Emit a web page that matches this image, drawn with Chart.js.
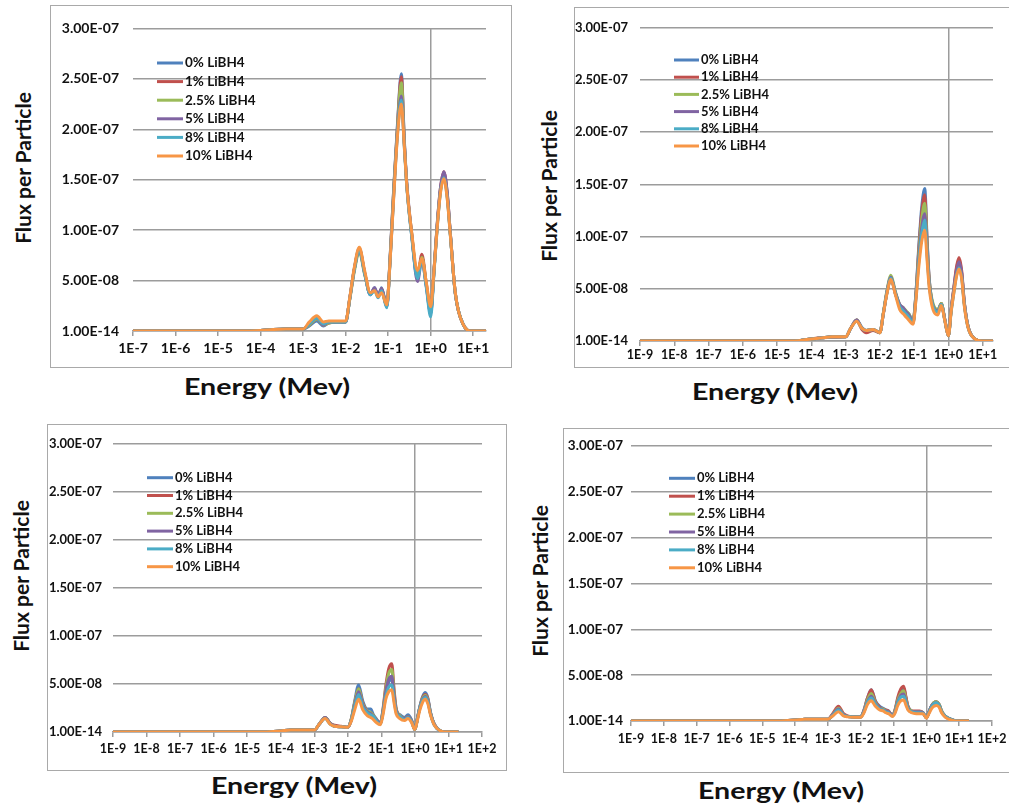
<!DOCTYPE html>
<html lang="en">
<head>
<meta charset="UTF-8">
<title>Flux per Particle vs Energy</title>
<script src="https://cdn.jsdelivr.net/npm/chart.js"></script>
<style>
  body { margin: 0; width: 1009px; height: 805px; overflow: hidden; background: #fff; position: relative; font-family: Lato, sans-serif; }
  .frame { position: absolute; border: 1px solid #a9a9a9; box-sizing: border-box; }
  .frame canvas { position: absolute; left: 0; top: 0; }
  .ytitle, .xtitle { position: absolute; font-weight: bold; color: #111; white-space: nowrap; font-size: 21px; }
  .ytitle { transform: translate(-50%, -50%) rotate(-90deg); }
  .xtitle { font-size: 22px; transform: translate(-50%, -50%) scaleX(1.3); }
</style>
</head>
<body>
<script>
// energy grid (MeV), shared by all four panels
const energy = [1e-9, 1e-8, 1e-7, 1e-6, 1e-5, 3.2e-5, 1e-4, 2e-4, 4e-4, 1e-3,
  1.4e-3, 2.1e-3, 3e-3, 4e-3, 6.3e-3, 1e-2, 1.26e-2, 1.6e-2, 2.1e-2, 2.8e-2,
  3.8e-2, 4.8e-2, 5.8e-2, 7e-2, 9.3e-2, 0.112, 0.135, 0.166, 0.204, 0.24,
  0.275, 0.355, 0.49, 0.62, 0.79, 1.0, 1.2, 1.41, 1.7, 2.04,
  2.45, 2.9, 3.8, 5.9, 9.3, 20];

const seriesNames = ['0% LiBH4', '1% LiBH4', '2.5% LiBH4', '5% LiBH4', '8% LiBH4', '10% LiBH4'];
const seriesColors = ['#4F81BD', '#C0504D', '#9BBB59', '#8064A2', '#4BACC6', '#F79646'];

// flux per particle, in units of 1E-08
const fluxA = [
  [0,0,0,0,0,0, 0.05,0.15,0.2,0.2, 0.5,1.0,0.5,0.8,0.9,0.9, 3.3,6.2,8.2,5.8,3.6,4.3,3.4,4.3,2.4, 7.6,14.1,20.6,25.5,19.0,14.5,9.6,5.3,7.3,4.5,1.7, 6.0,10.2,14.0,15.6,13.5,9.6,3.7,0.6,0,0],
  [0,0,0,0,0,0, 0.05,0.15,0.2,0.2, 0.6,1.2,0.6,0.8,0.9,0.9, 3.3,6.1,8.1,5.8,3.7,4.2,3.5,4.2,2.5, 7.5,14.0,20.4,25.2,18.8,14.4,9.7,5.5,7.6,4.7,2.0, 6.1,10.4,14.2,15.8,13.7,9.7,3.7,0.6,0,0],
  [0,0,0,0,0,0, 0.05,0.15,0.2,0.2, 0.6,1.2,0.6,0.8,0.9,0.9, 3.2,5.9,7.8,5.6,3.7,4.0,3.5,4.0,2.5, 7.4,13.8,20.2,24.6,18.6,14.4,9.8,5.5,7.3,4.6,2.0, 6.0,10.2,13.9,15.4,13.4,9.6,3.7,0.6,0,0],
  [0,0,0,0,0,0, 0.05,0.15,0.2,0.2, 0.7,1.3,0.6,0.9,0.9,0.9, 3.3,6.1,8.0,5.7,3.6,4.3,3.5,4.2,2.4, 7.3,13.5,19.8,23.3,18.5,14.6,9.8,4.9,7.0,4.4,1.8, 6.0,10.3,14.2,15.8,13.7,9.7,3.7,0.6,0,0],
  [0,0,0,0,0,0, 0.05,0.15,0.2,0.2, 0.7,1.3,0.7,0.9,0.9,0.9, 3.3,6.1,8.0,5.7,3.6,4.0,3.3,4.0,2.3, 7.2,13.4,19.6,22.9,18.2,14.3,9.5,5.2,7.1,4.3,1.4, 5.8,10.0,13.8,15.2,13.2,9.5,3.7,0.6,0,0],
  [0,0,0,0,0,0, 0.05,0.15,0.2,0.2, 0.9,1.5,0.9,1.0,1.0,1.0, 3.4,6.3,8.3,6.0,3.8,4.0,3.4,3.8,2.6, 7.2,13.2,19.4,22.5,18.3,14.4,9.9,6.0,7.2,4.8,2.4, 6.0,10.0,13.7,15.1,13.1,9.5,3.8,0.6,0,0]
];
const fluxB = [
  [0,0,0,0,0,0, 0.2,0.3,0.4,0.4, 1.2,2.0,1.3,1.0,1.1,0.8, 2.6,4.6,6.1,4.6,3.4,3.1,2.8,2.6,1.9, 4.5,8.8,12.8,14.6,9.6,6.0,3.4,2.9,3.6,2.0,0.5, 3.0,4.8,6.8,7.8,6.5,3.7,1.3,0.2,0,0],
  [0,0,0,0,0,0, 0.2,0.3,0.35,0.4, 1.2,2.0,1.1,0.8,1.0,0.8, 2.6,4.6,6.0,4.6,3.4,3.1,2.8,2.5,1.8, 4.4,8.5,12.3,14.0,9.3,5.9,3.4,2.9,3.6,2.0,0.5, 3.0,4.9,7.0,8.0,6.7,3.8,1.3,0.2,0,0],
  [0,0,0,0,0,0, 0.2,0.3,0.4,0.4, 1.2,2.0,1.2,1.0,1.1,0.8, 2.7,4.8,6.3,4.8,3.5,3.2,2.9,2.6,1.9, 4.3,8.1,11.6,13.2,8.9,5.8,3.6,3.0,3.6,2.0,0.5, 2.9,4.6,6.4,7.3,6.2,3.6,1.3,0.2,0,0],
  [0,0,0,0,0,0, 0.2,0.3,0.4,0.4, 1.2,2.0,1.2,1.0,1.1,0.8, 2.6,4.7,6.1,4.7,3.5,3.2,2.8,2.5,1.8, 4.1,7.7,10.8,12.2,8.4,5.6,3.4,2.9,3.5,2.0,0.5, 3.0,4.7,6.6,7.6,6.4,3.7,1.3,0.2,0,0],
  [0,0,0,0,0,0, 0.2,0.3,0.4,0.4, 1.2,1.9,1.2,1.0,1.1,0.8, 2.6,4.6,6.0,4.6,3.3,2.9,2.6,2.3,1.7, 4.0,7.4,10.3,11.6,8.1,5.4,3.3,2.8,3.5,1.9,0.5, 2.8,4.4,6.2,7.0,6.0,3.5,1.2,0.2,0,0],
  [0,0,0,0,0,0, 0.2,0.3,0.4,0.4, 1.2,1.9,1.2,1.0,1.1,0.8, 2.6,4.5,5.9,4.5,3.0,2.6,2.3,2.0,1.6, 3.8,6.9,9.5,10.6,7.6,5.1,3.0,2.5,3.4,1.9,0.5, 2.8,4.4,6.1,6.9,5.9,3.4,1.2,0.2,0,0]
];
const fluxC = [
  [0,0,0,0,0,0, 0.1,0.2,0.2,0.2, 0.8,1.5,0.9,0.6,0.55,0.5, 1.3,3.2,4.9,3.2,2.4,2.4,1.8,1.4,0.9, 2.1,4.0,5.2,5.5,3.6,2.3,1.8,1.5,1.8,1.3,0.25, 1.5,2.7,3.7,4.1,3.5,2.1,0.8,0.1,0,0],
  [0,0,0,0,0,0, 0.1,0.2,0.2,0.2, 0.8,1.5,0.9,0.7,0.6,0.5, 1.3,3.0,4.5,3.0,2.2,2.0,1.7,1.3,0.9, 2.4,4.8,6.6,7.1,4.4,2.5,1.7,1.4,1.6,1.2,0.25, 1.5,2.6,3.6,3.9,3.4,2.0,0.8,0.1,0,0],
  [0,0,0,0,0,0, 0.1,0.2,0.2,0.2, 0.8,1.5,0.9,0.6,0.55,0.5, 1.3,3.0,4.5,2.9,2.2,2.0,1.7,1.3,0.9, 2.3,4.5,6.1,6.5,4.1,2.4,1.7,1.4,1.6,1.2,0.25, 1.5,2.6,3.5,3.8,3.3,2.0,0.8,0.1,0,0],
  [0,0,0,0,0,0, 0.1,0.2,0.2,0.2, 0.8,1.5,0.9,0.6,0.55,0.5, 1.2,2.8,4.2,2.8,2.1,1.9,1.6,1.3,0.9, 2.2,4.2,5.5,5.8,3.8,2.3,1.6,1.4,1.6,1.2,0.25, 1.5,2.6,3.4,3.7,3.2,2.0,0.8,0.1,0,0],
  [0,0,0,0,0,0, 0.1,0.2,0.2,0.2, 0.8,1.4,0.8,0.6,0.55,0.5, 1.2,2.6,3.9,2.6,2.0,1.8,1.6,1.2,0.8, 2.0,3.7,4.7,4.9,3.3,2.1,1.6,1.3,1.5,1.1,0.25, 1.4,2.5,3.3,3.6,3.1,1.9,0.7,0.1,0,0],
  [0,0,0,0,0,0, 0.1,0.2,0.2,0.2, 0.8,1.4,0.8,0.6,0.55,0.5, 1.1,2.3,3.4,2.3,1.7,1.5,1.3,1.0,0.75, 1.8,3.4,4.2,4.4,3.0,1.9,1.4,1.2,1.4,1.0,0.25, 1.3,2.3,3.1,3.4,2.9,1.8,0.7,0.1,0,0]
];
const fluxD = [
  [0,0,0,0,0,0, 0.1,0.2,0.2,0.2, 0.7,1.4,0.7,0.5,0.45,0.45, 1.2,2.5,3.4,2.2,1.6,1.4,1.2,1.1,0.6, 1.2,2.4,3.3,3.6,2.5,1.6,1.1,1.0,1.0,0.9,0.35, 1.0,1.6,2.0,2.1,1.8,1.1,0.5,0.15,0,0],
  [0,0,0,0,0,0, 0.1,0.2,0.2,0.2, 0.8,1.6,0.8,0.55,0.45,0.45, 1.2,2.5,3.4,2.1,1.5,1.3,1.2,1.1,0.6, 1.3,2.6,3.5,3.8,2.6,1.6,1.1,1.1,1.1,0.9,0.35, 1.0,1.6,2.0,2.1,1.8,1.1,0.5,0.15,0,0],
  [0,0,0,0,0,0, 0.1,0.2,0.2,0.2, 0.7,1.4,0.7,0.5,0.45,0.45, 1.1,2.3,3.0,2.0,1.4,1.3,1.1,1.0,0.6, 1.2,2.3,3.0,3.3,2.3,1.5,1.1,1.0,1.0,0.9,0.35, 1.0,1.6,2.0,2.1,1.8,1.1,0.5,0.15,0,0],
  [0,0,0,0,0,0, 0.1,0.2,0.2,0.2, 0.7,1.3,0.7,0.5,0.45,0.45, 1.1,2.1,2.7,1.9,1.4,1.2,1.1,1.0,0.6, 1.1,2.1,2.8,2.95,2.1,1.4,1.0,1.0,1.0,0.9,0.35, 1.0,1.6,1.9,2.0,1.7,1.0,0.5,0.15,0,0],
  [0,0,0,0,0,0, 0.1,0.2,0.2,0.2, 0.6,1.2,0.6,0.5,0.45,0.45, 1.0,2.0,2.5,1.8,1.3,1.2,1.0,0.9,0.55, 1.0,2.0,2.6,2.7,2.0,1.3,1.0,0.9,0.9,0.85,0.35, 0.9,1.5,1.9,2.0,1.7,1.0,0.5,0.15,0,0],
  [0,0,0,0,0,0, 0.1,0.2,0.2,0.2, 0.55,1.0,0.55,0.45,0.4,0.4, 0.9,1.8,2.2,1.6,1.2,1.1,0.9,0.8,0.5, 0.9,1.7,2.2,2.3,1.7,1.2,0.9,0.8,0.8,0.8,0.3, 0.8,1.3,1.6,1.7,1.5,0.9,0.4,0.1,0,0]
];

const yTickValues = [0, 5, 10, 15, 20, 25, 30];
const yTickLabels = ['1.00E-14', '5.00E-08', '1.00E-07', '1.50E-07', '2.00E-07', '2.50E-07', '3.00E-07'];
const xTicksA = [1e-7, 1e-6, 1e-5, 1e-4, 1e-3, 1e-2, 1e-1, 1, 10];
const xLabelsA = ['1E-7', '1E-6', '1E-5', '1E-4', '1E-3', '1E-2', '1E-1', '1E+0', '1E+1'];
const xTicksB = [1e-9, 1e-8, 1e-7, 1e-6, 1e-5, 1e-4, 1e-3, 1e-2, 1e-1, 1, 10];
const xLabelsB = ['1E-9', '1E-8', '1E-7', '1E-6', '1E-5', '1E-4', '1E-3', '1E-2', '1E-1', '1E+0', '1E+1'];
const xTicksC = [1e-9, 1e-8, 1e-7, 1e-6, 1e-5, 1e-4, 1e-3, 1e-2, 1e-1, 1, 10, 100];
const xLabelsC = ['1E-9', '1E-8', '1E-7', '1E-6', '1E-5', '1E-4', '1E-3', '1E-2', '1E-1', '1E+0', '1E+1', '1E+2'];

const GRID = '#9c9c9c';

// panel geometry (page pixels)
const panels = [
  { flux: fluxA, xMin: 1e-7, xMax: 20, xTicks: xTicksA, xLabels: xLabelsA,
    frame: [50, 5, 462, 363], pad: { top: 18.5, right: 25 }, yWidth: 82, xHeight: 36,
    ySize: 14, xSize: 14, yPad: 14, xPad: 4,
    legend: { x: 106, y: 57, gap: 18.6, len: 26, size: 13.5 },
    ytitle: [22, 168], xtitle: [267, 386] },
  { flux: fluxB, xMin: 1e-9, xMax: 20, xTicks: xTicksB, xLabels: xLabelsB,
    frame: [574, 7, 450, 361], pad: { top: 9, right: 30 }, yWidth: 65, xHeight: 26,
    ySize: 13, xSize: 12.5, yPad: 12, xPad: 1,
    legend: { x: 99, y: 52, gap: 17.2, len: 25, size: 13 },
    ytitle: [548, 186], xtitle: [775, 391] },
  { flux: fluxC, xMin: 1e-9, xMax: 100, xTicks: xTicksC, xLabels: xLabelsC,
    frame: [47, 424, 460, 347], pad: { top: 16, right: 24 }, yWidth: 65, xHeight: 38,
    ySize: 13, xSize: 12.5, yPad: 11, xPad: 4,
    legend: { x: 99, y: 52.7, gap: 17.8, len: 26, size: 13 },
    ytitle: [20, 576], xtitle: [294, 785] },
  { flux: fluxD, xMin: 1e-9, xMax: 100, xTicks: xTicksC, xLabels: xLabelsC,
    frame: [563, 428, 462, 345], pad: { top: 17, right: 32 }, yWidth: 67, xHeight: 51,
    ySize: 13.5, xSize: 12.5, yPad: 8, xPad: 5,
    legend: { x: 105, y: 49.3, gap: 17.9, len: 26, size: 13 },
    ytitle: [539, 581], xtitle: [781, 790] }
];

const insideLegend = {
  id: 'insideLegend',
  afterDraw(chart, args, opts) {
    const ctx = chart.ctx;
    ctx.save();
    ctx.font = 'bold ' + opts.size + 'px Lato';
    ctx.textBaseline = 'middle';
    chart.data.datasets.forEach((ds, i) => {
      const y = opts.y + i * opts.gap;
      ctx.strokeStyle = ds.borderColor;
      ctx.lineWidth = 3;
      ctx.beginPath();
      ctx.moveTo(opts.x, y);
      ctx.lineTo(opts.x + opts.len, y);
      ctx.stroke();
      ctx.fillStyle = '#111';
      ctx.fillText(ds.label, opts.x + opts.len + 2, y);
    });
    ctx.restore();
  }
};

function addText(cls, text, pos) {
  const d = document.createElement('div');
  d.className = cls;
  d.textContent = text;
  d.style.left = pos[0] + 'px';
  d.style.top = pos[1] + 'px';
  document.body.appendChild(d);
}

panels.forEach(p => {
  const frame = document.createElement('div');
  frame.className = 'frame';
  frame.style.left = p.frame[0] + 'px';
  frame.style.top = p.frame[1] + 'px';
  frame.style.width = p.frame[2] + 'px';
  frame.style.height = p.frame[3] + 'px';
  const canvas = document.createElement('canvas');
  canvas.width = p.frame[2] - 2;
  canvas.height = p.frame[3] - 2;
  frame.appendChild(canvas);
  document.body.appendChild(frame);

  addText('ytitle', 'Flux per Particle', p.ytitle);
  addText('xtitle', 'Energy (Mev)', p.xtitle);

  new Chart(canvas, {
    type: 'line',
    data: {
      datasets: seriesNames.map((name, i) => ({
        label: name,
        data: energy.map((e, k) => ({ x: e, y: p.flux[i][k] })),
        borderColor: seriesColors[i],
        borderWidth: 3,
        pointRadius: 0,
        cubicInterpolationMode: 'monotone',
        fill: false,
        order: seriesNames.length - i
      }))
    },
    options: {
      responsive: false,
      animation: false,
      layout: { padding: { top: p.pad.top, right: p.pad.right, bottom: 0, left: 0 } },
      plugins: {
        legend: { display: false },
        tooltip: { enabled: false },
        insideLegend: p.legend
      },
      scales: {
        x: {
          type: 'logarithmic',
          min: p.xMin,
          max: p.xMax,
          afterBuildTicks: s => { s.ticks = p.xTicks.map(v => ({ value: v })); },
          afterFit: s => { s.height = p.xHeight; },
          ticks: {
            callback: (v, i) => p.xLabels[i],
            font: { family: 'Lato', weight: 'bold', size: p.xSize },
            color: '#111', padding: p.xPad,
            autoSkip: false, maxRotation: 0
          },
          grid: {
            color: c => (c.tick && c.tick.value === 1) ? GRID : 'rgba(0,0,0,0)',
            tickColor: GRID, tickLength: 5, lineWidth: 1.5
          },
          border: { display: true, color: GRID, width: 1.5 }
        },
        y: {
          min: 0,
          max: 30,
          afterBuildTicks: s => { s.ticks = yTickValues.map(v => ({ value: v })); },
          afterFit: s => { s.width = p.yWidth; },
          ticks: {
            callback: (v, i) => yTickLabels[i],
            font: { family: 'Lato', weight: 'bold', size: p.ySize },
            color: '#111', padding: p.yPad
          },
          grid: { color: GRID, lineWidth: 1.5, drawTicks: false },
          border: { display: false }
        }
      }
    },
    plugins: [insideLegend]
  });
});
</script>
</body>
</html>
